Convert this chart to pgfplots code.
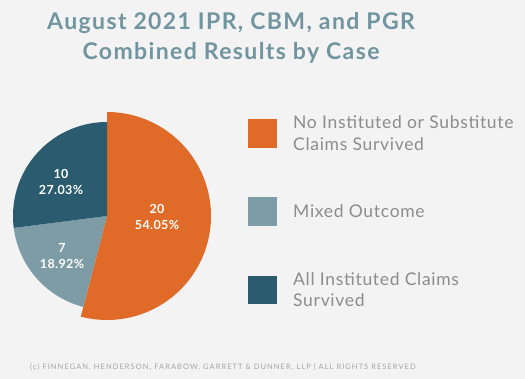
\documentclass[border=0pt]{standalone}
\usepackage{pgfplots}
\pgfplotsset{compat=1.18}
\usepackage{pgfplotstable}
\usepackage{fontspec}
\setmainfont{Lato}
\definecolor{bgc}{HTML}{F3F3F3}
\definecolor{orangec}{HTML}{E06A27}
\definecolor{greyc}{HTML}{7D9CA6}
\definecolor{darkc}{HTML}{2A5B6F}
\definecolor{titlec}{HTML}{7195A0}
\definecolor{legc}{HTML}{8C8C8C}
\definecolor{footc}{HTML}{A5A5A5}

\pgfplotstableread{
value
20
7
10
}\slices

\begin{document}
\begin{tikzpicture}
\pgfplotstablegetelem{0}{value}\of\slices \global\let\va\pgfplotsretval
\pgfplotstablegetelem{1}{value}\of\slices \global\let\vb\pgfplotsretval
\pgfplotstablegetelem{2}{value}\of\slices \global\let\vc\pgfplotsretval
\pgfmathsetmacro{\tot}{\va+\vb+\vc}
\pgfmathsetmacro{\aA}{90}
\pgfmathsetmacro{\aB}{90-360*\va/\tot}
\pgfmathsetmacro{\aC}{\aB-360*\vb/\tot}
\pgfmathsetmacro{\aD}{\aC-360*\vc/\tot}
\fill[bgc] (0,0) rectangle (525bp,379bp);
\begin{axis}[at={(0,0)}, anchor=south west, scale only axis,
  width=525bp, height=379bp, xmin=0, xmax=525, ymin=0, ymax=379,
  hide axis, clip=false]
% pie slices (centre 107,163)
\addplot[fill=orangec, draw=none, domain=\aB:\aA, samples=120, variable=\t]
  ({107+104*cos(t)},{163+104*sin(t)}) -- (axis cs:107,163) -- cycle;
\addplot[fill=greyc, draw=none, domain=\aC:\aB, samples=60, variable=\t]
  ({107+94*cos(t)},{163+94*sin(t)}) -- (axis cs:107,163) -- cycle;
\addplot[fill=darkc, draw=none, domain=\aD:\aC, samples=80, variable=\t]
  ({107+94*cos(t)},{163+94*sin(t)}) -- (axis cs:107,163) -- cycle;
% slice labels
\begin{scope}[every node/.style={text=white, align=center, font=\bfseries\fontsize{12.5bp}{16bp}\selectfont\addfontfeature{LetterSpace=3}}]
\node at (axis cs:157,162) {20\\54.05\%};
\node at (axis cs:61,197) {10\\27.03\%};
\node at (axis cs:62,123) {7\\18.92\%};
\end{scope}
% title
\begin{scope}[every node/.style={anchor=base, text=titlec, font=\bfseries\fontsize{23bp}{26bp}\selectfont\addfontfeature{LetterSpace=6}}]
\node at (axis cs:231,349) {August 2021 IPR, CBM, and PGR};
\node at (axis cs:231,319) {Combined Results by Case};
\end{scope}
% legend
\fill[orangec] (axis cs:248,260) rectangle (axis cs:277,231);
\fill[greyc] (axis cs:248,182) rectangle (axis cs:277,153);
\fill[darkc] (axis cs:248,103) rectangle (axis cs:277,75);
\begin{scope}[every node/.style={anchor=base west, inner sep=0pt, text=legc, font=\fontsize{17.5bp}{22bp}\selectfont\addfontfeature{LetterSpace=4}}]
\node at (axis cs:293,250) {No Instituted or Substitute};
\node at (axis cs:293,228) {Claims Survived};
\node at (axis cs:293,161) {Mixed Outcome};
\node at (axis cs:293,93) {All Instituted Claims};
\node at (axis cs:293,72) {Survived};
\end{scope}
% footer
\node[anchor=base west, inner sep=0pt, text=footc, font=\fontsize{7.5bp}{8bp}\selectfont\addfontfeature{LetterSpace=14}] at (axis cs:30,10) {(c) FINNEGAN, HENDERSON, FARABOW, GARRETT \& DUNNER, LLP | ALL RIGHTS RESERVED};
\end{axis}
\end{tikzpicture}
\end{document}
